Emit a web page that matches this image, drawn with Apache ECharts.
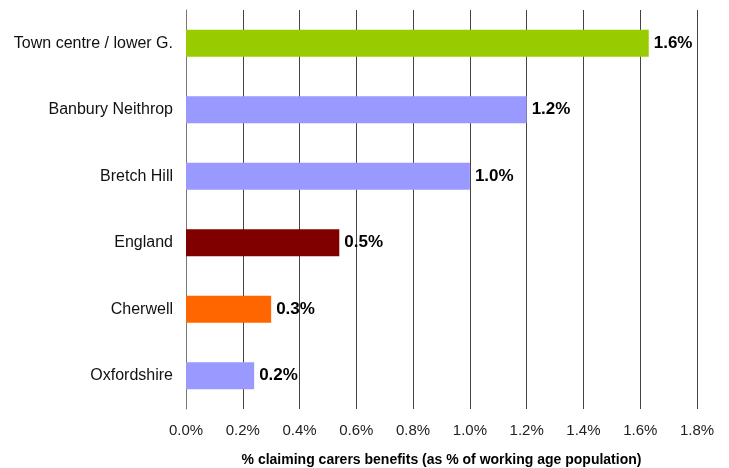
<!DOCTYPE html>
<html>
<head>
<meta charset="utf-8">
<script src="https://cdn.jsdelivr.net/npm/echarts@6/dist/echarts.min.js"></script>
<style>
html, body { margin: 0; padding: 0; background: #fff; }
#chart { width: 729px; height: 468px; }
</style>
</head>
<body>
<div id="chart"></div>
<script>
// data, top to bottom as in the picture
const categories = ['Town centre / lower G.', 'Banbury Neithrop', 'Bretch Hill', 'England', 'Cherwell', 'Oxfordshire']
const values = [1.63, 1.20, 1.00, 0.54, 0.30, 0.24]
const barColors = ['#99CC00', '#9999FF', '#9999FF', '#800000', '#FF6600', '#9999FF']
const xTicks = [0, 0.2, 0.4, 0.6, 0.8, 1.0, 1.2, 1.4, 1.6, 1.8]

const myChart = echarts.init(document.getElementById('chart'))
const option = {
  animation: false,
  grid: {
    left: 186,
    right: 32,
    top: 10,
    bottom: 59,
    outerBoundsMode: 'none'
  },
  xAxis: {
    type: 'value',
    min: xTicks[0],
    max: xTicks[xTicks.length - 1],
    interval: 0.2,
    name: '% claiming carers benefits (as % of working age population)',
    nameLocation: 'middle',
    nameGap: 44,
    nameTextStyle: {
      fontFamily: 'Liberation Sans',
      fontWeight: 'bold',
      fontSize: 14,
      color: '#000'
    },
    axisLine: { show: false },
    axisTick: { show: false },
    axisLabel: {
      fontFamily: 'Liberation Sans',
      fontSize: 15,
      color: '#222',
      margin: 14,
      formatter: v => v.toFixed(1) + '%'
    },
    splitLine: { show: true, lineStyle: { color: '#444', width: 1 } }
  },
  yAxis: {
    type: 'category',
    inverse: true,
    data: categories,
    axisLine: { show: true, lineStyle: { color: '#777' } },
    axisTick: { show: false },
    axisLabel: {
      fontFamily: 'Liberation Sans',
      fontSize: 16,
      color: '#111',
      margin: 13
    }
  },
  series: [
    {
      type: 'bar',
      barWidth: 27,
      data: values.map((v, i) => ({ value: v, itemStyle: { color: barColors[i] } })),
      label: {
        show: true,
        position: 'right',
        distance: 5,
        fontFamily: 'Liberation Sans',
        fontWeight: 'bold',
        fontSize: 17,
        color: '#000',
        formatter: p => p.value.toFixed(1) + '%'
      }
    }
  ]
}
myChart.setOption(option)
</script>
</body>
</html>
